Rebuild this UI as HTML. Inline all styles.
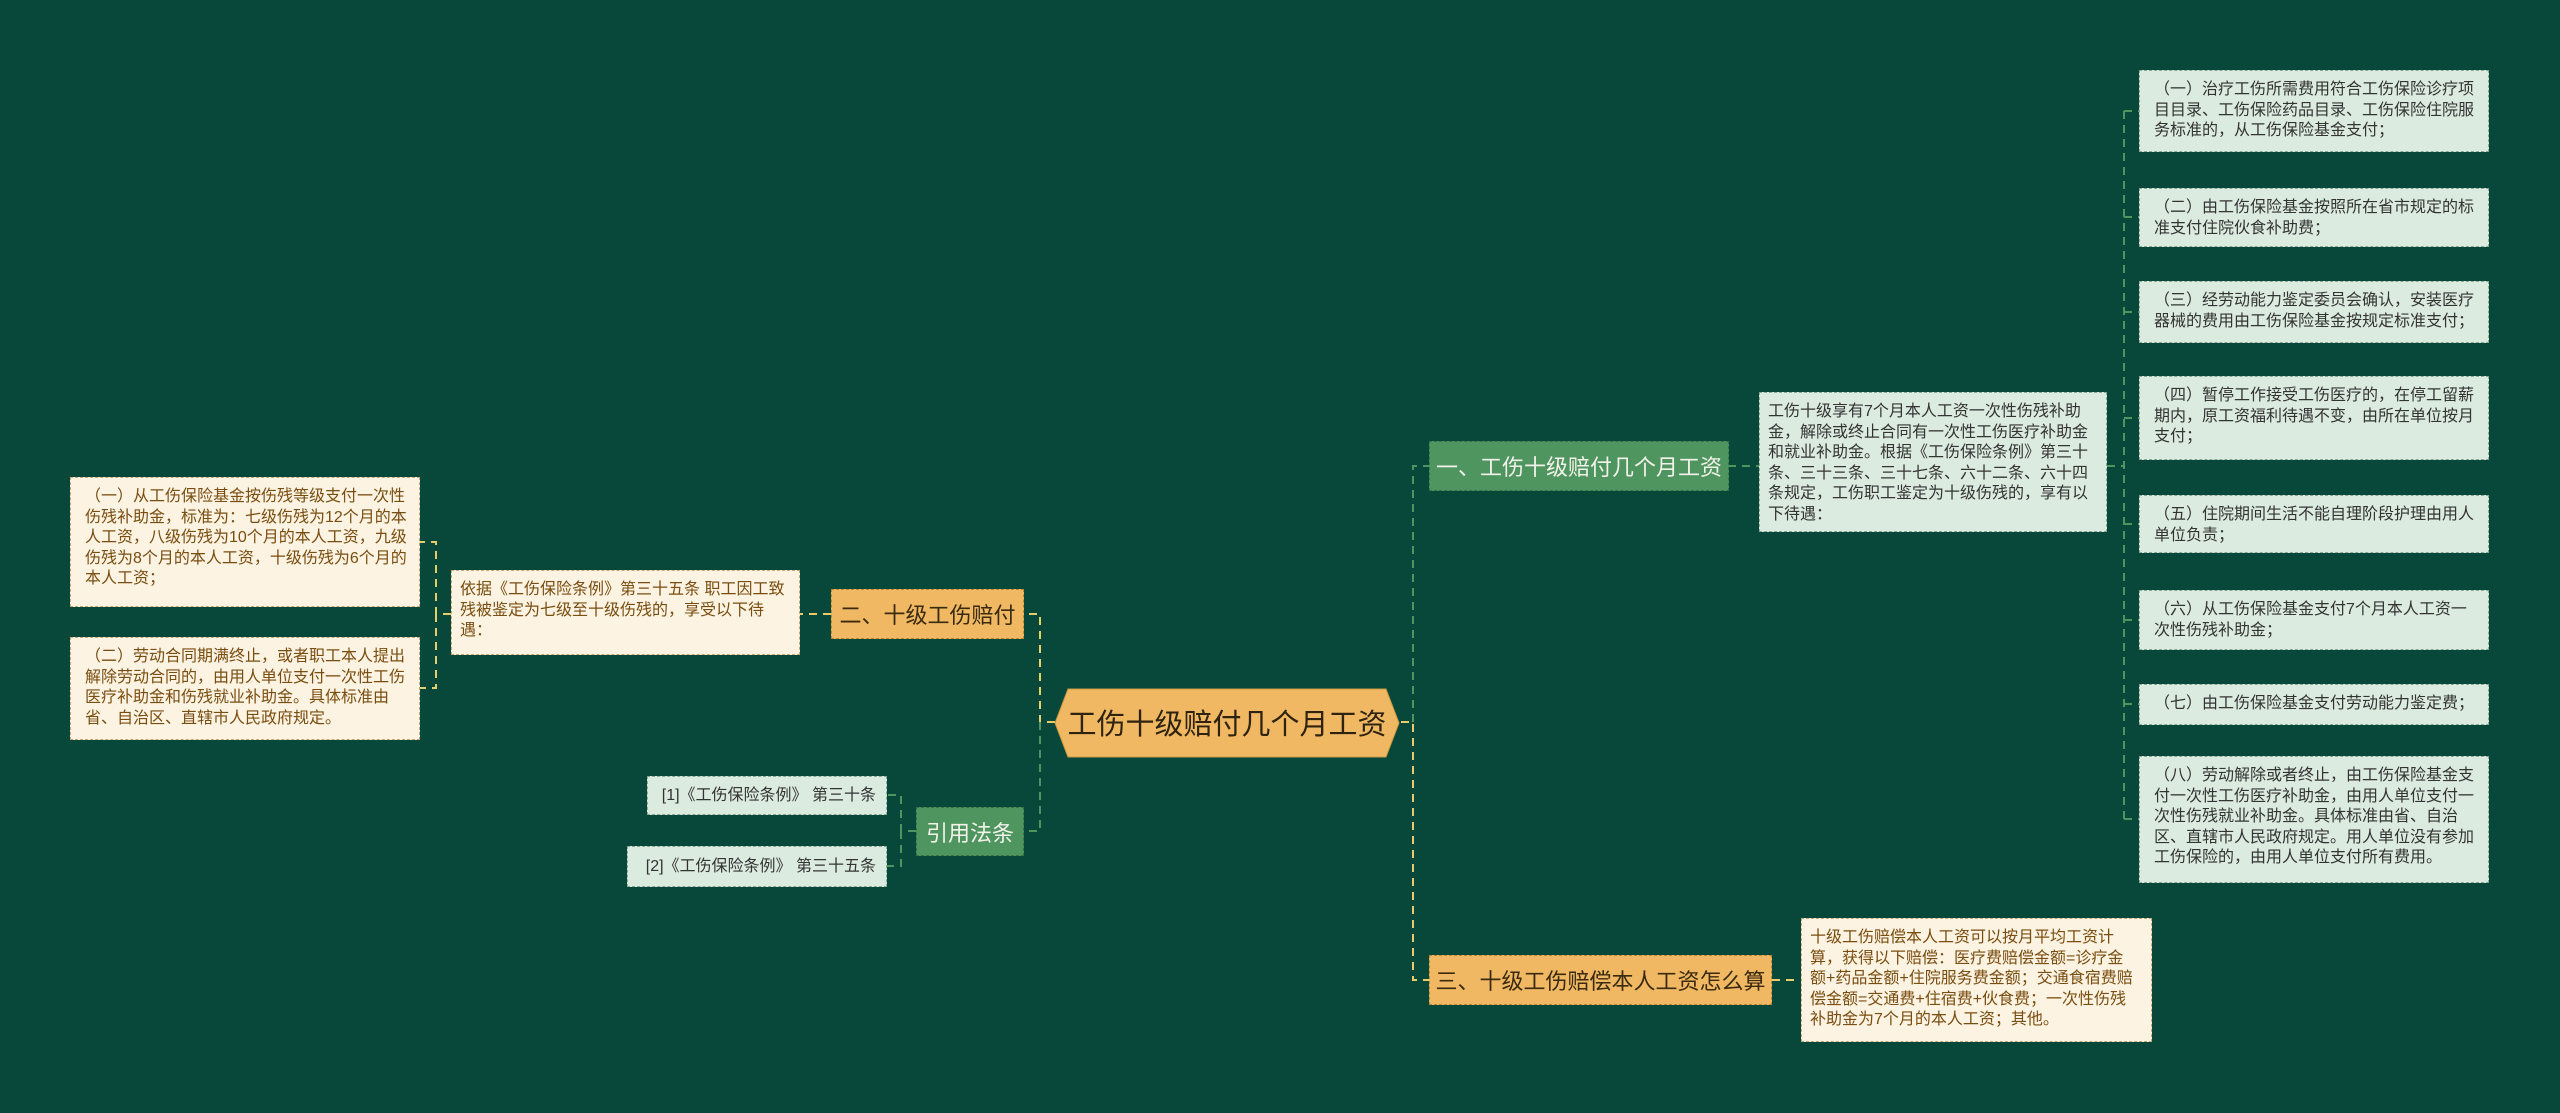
<!DOCTYPE html>
<html><head><meta charset="utf-8">
<style>
body{margin:0;width:2560px;height:1113px;background:#08483a;overflow:hidden;font-family:"Liberation Sans","Noto Sans CJK SC",sans-serif;position:relative}
.b{position:absolute;box-sizing:border-box;}
.m{background:#dcebe0;color:#333;border:1px dashed #8aa896;font-size:16px;line-height:20.5px;padding:9px 12px 0 14px}
.c{background:#fdf3e2;color:#7a4d10;border:1px dashed #c9a877;font-size:16px;line-height:20.5px;padding:9px 12px 0 14px}
.g{background:#4f9560;color:#f2f2ea;font-size:22px;display:flex;align-items:center;justify-content:center;border:1px dashed #3a7048}
.o{background:#f0b862;color:#3a2a10;font-size:22px;display:flex;align-items:center;justify-content:center;border:1px dashed #b88838}
</style></head><body>
<svg width="2560" height="1113" style="position:absolute;left:0;top:0" fill="none" stroke-width="2" stroke-dasharray="8,6">
<g stroke="#e6cc6a">
<path d="M1401 722 H1413 V980 H1429"/>
<path d="M1055 722 H1040 V614 H1024"/>
<path d="M831 614 H800"/>
<path d="M451 614 H436 V542 H420 M436 614 V688 H420"/>
<path d="M1772 980 H1800"/>
</g>
<g stroke="#4f9560">
<path d="M1413 722 V466 H1429"/>
<path d="M1040 722 V831 H1024"/>
<path d="M916 831 H901 V795 H887 M901 831 V866 H887"/>
<path d="M1728 466 H1759"/>
<path d="M2107 466 H2124 M2124 111 V819 M2124 111 H2139 M2124 217 H2139 M2124 312 H2139 M2124 418 H2139 M2124 524 H2139 M2124 620 H2139 M2124 704 H2139 M2124 819 H2139"/>
</g>
</svg>

<svg width="346" height="70" style="position:absolute;left:1054px;top:688px">
<polygon points="14,1 332,1 345,35 332,69 14,69 1,35" fill="#f0b862" stroke="#c99a40" stroke-width="1"/>
<text x="173" y="46" text-anchor="middle" font-size="29" fill="#2e2210" font-family="Liberation Sans, Noto Sans CJK SC, sans-serif">工伤十级赔付几个月工资</text>
</svg>

<div class="b g" style="left:1429px;top:441px;width:300px;height:50px">一、工伤十级赔付几个月工资</div>
<div class="b o" style="left:831px;top:589px;width:193px;height:50px">二、十级工伤赔付</div>
<div class="b g" style="left:916px;top:807px;width:108px;height:49px">引用法条</div>
<div class="b o" style="left:1429px;top:955px;width:343px;height:50px">三、十级工伤赔偿本人工资怎么算</div>

<div class="b m" style="left:1759px;top:392px;width:348px;height:140px;padding-left:8px">工伤十级享有7个月本人工资一次性伤残补助金，解除或终止合同有一次性工伤医疗补助金和就业补助金。根据《工伤保险条例》第三十条、三十三条、三十七条、六十二条、六十四条规定，工伤职工鉴定为十级伤残的，享有以下待遇：</div>

<div class="b m" style="left:2139px;top:70px;width:350px;height:82px">（一）治疗工伤所需费用符合工伤保险诊疗项目目录、工伤保险药品目录、工伤保险住院服务标准的，从工伤保险基金支付；</div>
<div class="b m" style="left:2139px;top:188px;width:350px;height:59px">（二）由工伤保险基金按照所在省市规定的标准支付住院伙食补助费；</div>
<div class="b m" style="left:2139px;top:281px;width:350px;height:62px">（三）经劳动能力鉴定委员会确认，安装医疗器械的费用由工伤保险基金按规定标准支付；</div>
<div class="b m" style="left:2139px;top:376px;width:350px;height:84px">（四）暂停工作接受工伤医疗的，在停工留薪期内，原工资福利待遇不变，由所在单位按月支付；</div>
<div class="b m" style="left:2139px;top:495px;width:350px;height:58px">（五）住院期间生活不能自理阶段护理由用人单位负责；</div>
<div class="b m" style="left:2139px;top:590px;width:350px;height:60px">（六）从工伤保险基金支付7个月本人工资一次性伤残补助金；</div>
<div class="b m" style="left:2139px;top:684px;width:350px;height:41px">（七）由工伤保险基金支付劳动能力鉴定费；</div>
<div class="b m" style="left:2139px;top:756px;width:350px;height:127px">（八）劳动解除或者终止，由工伤保险基金支付一次性工伤医疗补助金，由用人单位支付一次性伤残就业补助金。具体标准由省、自治区、直辖市人民政府规定。用人单位没有参加工伤保险的，由用人单位支付所有费用。</div>

<div class="b c" style="left:451px;top:570px;width:349px;height:85px;padding-left:8px">依据《工伤保险条例》第三十五条 职工因工致残被鉴定为七级至十级伤残的，享受以下待遇：</div>
<div class="b c" style="left:70px;top:477px;width:350px;height:130px">（一）从工伤保险基金按伤残等级支付一次性伤残补助金，标准为：七级伤残为12个月的本人工资，八级伤残为10个月的本人工资，九级伤残为8个月的本人工资，十级伤残为6个月的本人工资；</div>
<div class="b c" style="left:70px;top:637px;width:350px;height:103px">（二）劳动合同期满终止，或者职工本人提出解除劳动合同的，由用人单位支付一次性工伤医疗补助金和伤残就业补助金。具体标准由省、自治区、直辖市人民政府规定。</div>

<div class="b m" style="left:647px;top:776px;width:240px;height:39px;text-align:right;padding:9px 10px 0 8px">[1]《工伤保险条例》 第三十条</div>
<div class="b m" style="left:627px;top:846px;width:260px;height:41px;text-align:right;padding:10px 10px 0 8px">[2]《工伤保险条例》 第三十五条</div>

<div class="b c" style="left:1801px;top:918px;width:351px;height:124px;padding-left:8px">十级工伤赔偿本人工资可以按月平均工资计算，获得以下赔偿：医疗费赔偿金额=诊疗金额+药品金额+住院服务费金额；交通食宿费赔偿金额=交通费+住宿费+伙食费；一次性伤残补助金为7个月的本人工资；其他。</div>
</body></html>
